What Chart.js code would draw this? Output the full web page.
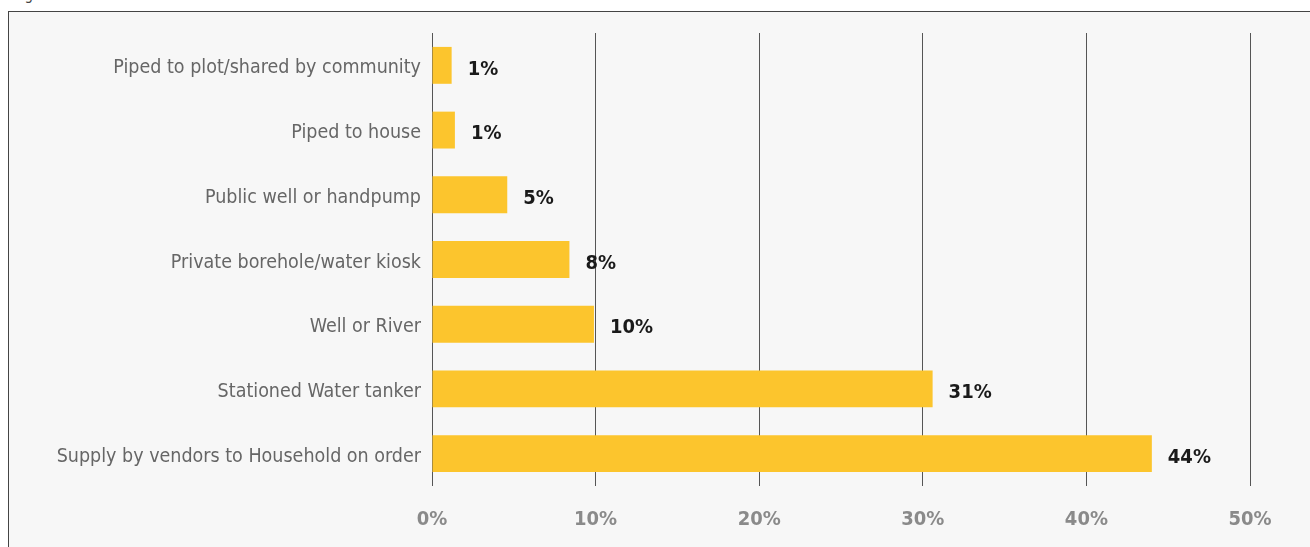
<!DOCTYPE html>
<html><head><meta charset="utf-8">
<script src="https://cdn.jsdelivr.net/npm/chart.js@4/dist/chart.umd.min.js"></script>
<style>
html,body{margin:0;padding:0;background:#fff;width:1310px;height:547px;overflow:hidden;font-family:"DejaVu Sans Condensed",sans-serif;}
#box{position:absolute;left:8px;top:11px;width:1320px;height:560px;border:1.5px solid #444;background:#f7f7f7;}
#title{position:absolute;left:14px;top:-14px;font-size:15px;color:#444;}
#wrap{position:absolute;left:0;top:0;width:1310px;height:547px;}
</style></head>
<body>
<div id="title">Figure</div>
<div id="box"></div>
<div id="wrap"><canvas id="c" width="1310" height="547"></canvas></div>
<script>
const categories = ["Piped to plot/shared by community","Piped to house","Public well or handpump","Private borehole/water kiosk","Well or River","Stationed Water tanker","Supply by vendors to Household on order"];
const values = [1.2, 1.4, 4.6, 8.4, 9.9, 30.6, 44.0];
const valueLabels = ["1%","1%","5%","8%","10%","31%","44%"];
const xTicks = [0,10,20,30,40,50];
const FONT = '"DejaVu Sans Condensed",sans-serif';

const labelPlugin = {
  id:'valueLabels',
  afterDatasetsDraw(chart){
    const ctx = chart.ctx;
    const meta = chart.getDatasetMeta(0);
    ctx.save();
    ctx.font = 'bold 20px ' + FONT;
    ctx.fillStyle = '#1a1a1a';
    ctx.textAlign = 'left';
    ctx.textBaseline = 'middle';
    meta.data.forEach((bar,i)=>{
      ctx.fillText(valueLabels[i], bar.x + 16, bar.y + 4);
    });
    ctx.restore();
  }
};

new Chart(document.getElementById('c'), {
  type:'bar',
  data:{labels:categories, datasets:[{data:values, backgroundColor:'#FCC52D', borderWidth:0, barPercentage:0.57, categoryPercentage:1}]},
  options:{
    indexAxis:'y', responsive:false, animation:false,
    layout:{padding:{top:33,right:60,left:0,bottom:0}},
    plugins:{legend:{display:false}, tooltip:{enabled:false}},
    scales:{
      x:{min:0,max:50,
        afterBuildTicks(s){ s.ticks = xTicks.map(v=>({value:v})); },
        afterFit(s){ s.height = 61; },
        grid:{color:'#555',lineWidth:1,drawTicks:false},
        border:{display:false},
        ticks:{padding:22,color:'#8a8a8a',font:{family:FONT,size:20,weight:'bold'},callback:v=>v+'%'}
      },
      y:{
        afterFit(s){ s.width = 432; },
        grid:{display:false,drawTicks:false},
        border:{display:false},
        ticks:{padding:11,labelOffset:3,color:'#666',font:{family:FONT,size:19.5}}
      }
    }
  },
  plugins:[labelPlugin]
});
</script>
</body></html>
